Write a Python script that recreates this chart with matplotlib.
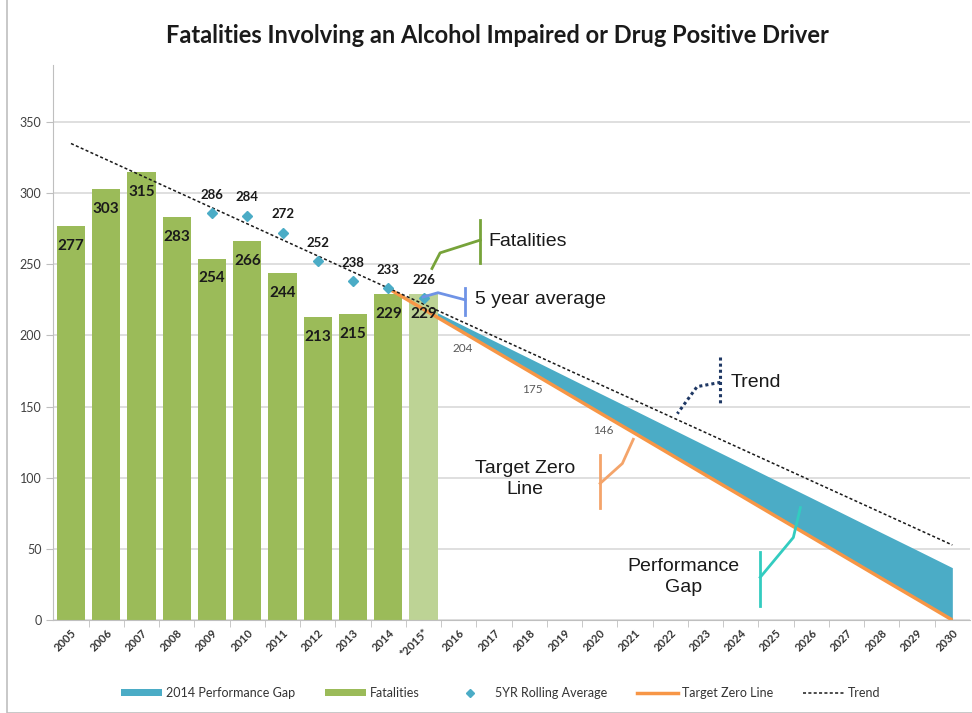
import numpy as np
import matplotlib
matplotlib.use("Agg")
from matplotlib import pyplot as plt
from matplotlib.patches import Rectangle, Patch
from matplotlib.lines import Line2D

# chart data
years = ["2005", "2006", "2007", "2008", "2009", "2010", "2011", "2012", "2013",
         "2014", "*2015*", "2016", "2017", "2018", "2019", "2020", "2021", "2022",
         "2023", "2024", "2025", "2026", "2027", "2028", "2029", "2030"]
fatalities = [277, 303, 315, 283, 254, 266, 244, 213, 215, 229, 229]
rolling_avg = [286, 284, 272, 252, 238, 233, 226]          # 2009 .. 2015
# 2014 .. 2030
target_zero = [233, 218.4, 203.9, 189.3, 174.8, 160.2, 145.6, 131.1, 116.5,
               101.9, 87.4, 72.8, 58.3, 43.7, 29.1, 14.6, 0]
perf_gap = [0, 2.3, 4.6, 6.9, 9.2, 11.5, 13.8, 16.1, 18.4, 20.7, 23.0,
            25.3, 27.6, 29.9, 32.2, 34.5, 36.8]
target_labels = {"2016": 204, "2018": 175, "2020": 146}

GREEN = "#9BBB59"
GREEN_LIGHT = "#BDD395"
TEAL = "#4BACC6"
ORANGE = "#F79646"
GRID = "#D9D9D9"
TXT = "#333333"

plt.rcParams["font.family"] = ["Lato", "DejaVu Sans"]

fig = plt.figure(figsize=(9.72, 7.13), dpi=100)
# chart border
fig.patches.append(Rectangle((7 / 972, 0.5 / 713), 2, 2, transform=fig.transFigure,
                             fill=False, edgecolor="#BFBFBF", lw=1.2))
ax = fig.add_axes([0.0549, 0.1304, 0.943, 0.7784])

x = np.arange(len(years))
x_bar = x[:len(fatalities)]
x_avg = x[4:4 + len(rolling_avg)]
x_tgt = x[9:9 + len(target_zero)]

# performance gap (stacked on top of target line)
tz = np.array(target_zero, dtype=float)
gap = np.array(perf_gap, dtype=float)
ax.fill_between(x_tgt, tz, tz + gap, color=TEAL, lw=0, zorder=2)

# fatalities bars
bar_colors = [GREEN] * (len(fatalities) - 1) + [GREEN_LIGHT]
ax.bar(x_bar, fatalities, width=0.8, color=bar_colors, zorder=2)
for xi, v in zip(x_bar, fatalities):
    ax.text(xi, v - 14, str(v), ha="center", va="center", fontsize=11,
            fontweight="bold", color="#1a1a1a", zorder=6)

# target zero line
ax.plot(x_tgt, tz, color=ORANGE, lw=2.5, zorder=3, solid_capstyle="butt")
for yr, v in target_labels.items():
    xi = years.index(yr)
    ax.text(xi + 0.1, v - 13, str(v), ha="center", va="center", fontsize=8.5,
            color="#595959", zorder=6)

# trend (linear fit of the rolling average)
k, b = np.polyfit(x_avg, rolling_avg, 1)
ax.plot(x, k * x + b, color="#1a1a1a", lw=1.1, ls=(0, (2, 1.5)), zorder=4)

# 5yr rolling average
ax.plot(x_avg, rolling_avg, ls="none", marker="D", ms=5.5, color=TEAL, zorder=5)
for xi, v in zip(x_avg, rolling_avg):
    ax.text(xi, v + 13, str(v), ha="center", va="center", fontsize=9.5,
            fontweight="bold", color="#1a1a1a", zorder=6)

# hand drawn callouts
def callout(vx, vy0, vy1, path, color, ls="-", lw=2.0):
    ax.plot([vx, vx], [vy0, vy1], color=color, lw=lw, ls=ls, zorder=7)
    ax.plot([p[0] for p in path], [p[1] for p in path], color=color, lw=lw, ls=ls, zorder=7)

ann_font = dict(family=["Liberation Sans", "DejaVu Sans"], fontsize=14, color="#1a1a1a", zorder=8)

callout(11.61, 281, 251, [(11.61, 267), (10.47, 258), (10.24, 247)], "#77A33A")
ax.text(11.83, 266, "Fatalities", ha="left", va="center", **ann_font)

callout(11.18, 233, 214, [(11.18, 225), (10.41, 230), (9.99, 227)], "#6F93E6")
ax.text(11.46, 225, "5 year average", ha="left", va="center", **ann_font)

callout(18.42, 185, 152, [(18.42, 167), (17.76, 164), (17.20, 145)], "#1F3864", ls=(0, (1, 1)), lw=2.2)
ax.text(18.70, 167, "Trend", ha="left", va="center", **ann_font)

callout(15.01, 116, 79, [(15.01, 96), (15.64, 110), (15.95, 127)], "#F4A46A")
ax.text(12.88, 99, "Target Zero\nLine", ha="center", va="center", linespacing=1.3, **ann_font)

callout(19.55, 48, 10, [(19.55, 30), (20.49, 58), (20.69, 79)], "#33CCC0")
ax.text(17.37, 30, "Performance\nGap", ha="center", va="center", linespacing=1.3, **ann_font)

# axes styling
ax.set_xlim(-0.5, len(years) - 0.5)
ax.set_ylim(0, 390)
ax.set_yticks(range(0, 351, 50))
ax.yaxis.grid(True, color=GRID, lw=1.2, zorder=0)
ax.set_axisbelow(True)
for s in ["top", "right"]:
    ax.spines[s].set_visible(False)
ax.spines["left"].set_color("#BFBFBF")
ax.spines["bottom"].set_color("#BFBFBF")
ax.tick_params(axis="y", colors="#BFBFBF", labelcolor="#404040", labelsize=9, length=5)
ax.set_xticks(x)
ax.set_xticklabels(years, rotation=45, ha="right", rotation_mode="anchor",
                   fontsize=8, fontweight="bold", color=TXT)
ax.tick_params(axis="x", which="major", length=0, pad=5)
ax.set_xticks(x[:-1] + 0.5, minor=True)
ax.tick_params(axis="x", which="minor", length=5, color="#BFBFBF")

fig.suptitle("Fatalities Involving an Alcohol Impaired or Drug Positive Driver",
             x=0.512, y=0.967, fontsize=17, fontweight="bold", color="#1a1a1a")

handles = [
    Patch(facecolor=TEAL, edgecolor="none"),
    Patch(facecolor=GREEN, edgecolor="none"),
    Line2D([], [], ls="none", marker="D", ms=4, color=TEAL),
    Line2D([], [], color=ORANGE, lw=2.5),
    Line2D([], [], color="#1a1a1a", lw=1.1, ls=(0, (2, 1.5))),
]
labels = ["2014 Performance Gap", "Fatalities", "5YR Rolling Average", "Target Zero Line", "Trend"]
leg = fig.legend(handles, labels, loc="center", bbox_to_anchor=(0.515, 0.028), ncol=5,
                 frameon=False, fontsize=9, handlelength=3.3, handleheight=0.45,
                 columnspacing=2.4, handletextpad=0.3)
for t in leg.get_texts():
    t.set_color(TXT)

fig.savefig("out.png", dpi=100)
